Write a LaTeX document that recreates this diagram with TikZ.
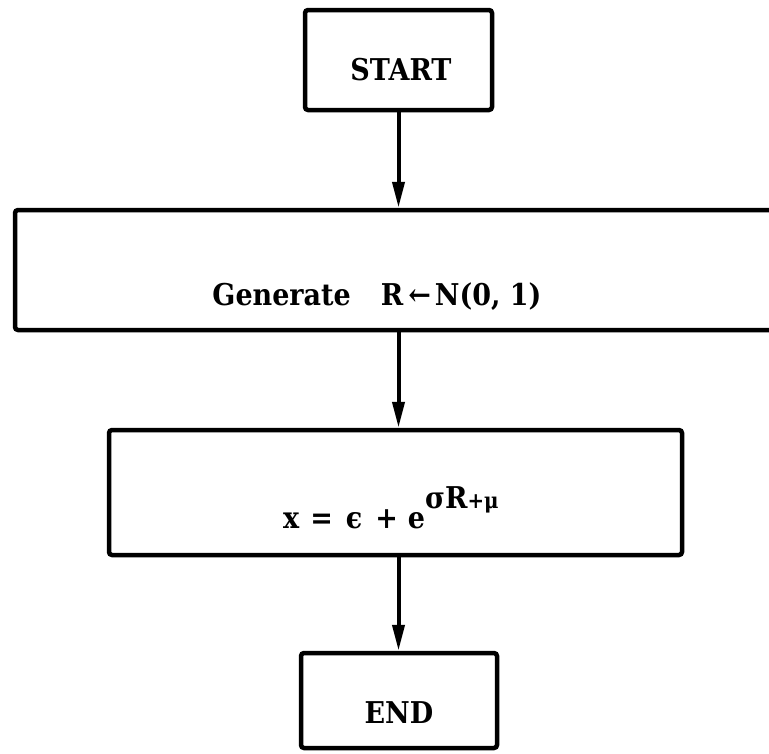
\documentclass[tikz,border=0pt]{standalone}
\usepackage{fontspec}
\setmainfont{DejaVu Serif}[FakeStretch=0.9]
\usetikzlibrary{arrows.meta}
\begin{document}
\begin{tikzpicture}[x=1pt,y=-1pt,
  box/.style={draw, line width=4.5pt, rounded corners=3pt, inner sep=0pt},
  lbl/.style={font=\fontsize{30}{33}\selectfont\bfseries, inner sep=0pt, anchor=base},
  flow/.style={line width=4pt, -{Triangle[length=26pt,width=12pt]}}]
\useasboundingbox (0,0) rectangle (769,753);
\clip (0,0) rectangle (769,753);

% process boxes
\node[box, minimum width=187pt, minimum height=100pt] (start) at (398.5,60) {};
\node[box, minimum width=775pt, minimum height=120pt] (gen) at (402.5,270) {};
\node[box, minimum width=573pt, minimum height=125pt] (xbox) at (395.5,492.5) {};
\node[box, minimum width=196pt, minimum height=95pt] (end) at (399,700.5) {};

% box texts
\node[lbl] (startlbl) at (401,80) {START};
\node[lbl] (genlbl) at (377,305) {Generate\hspace{30pt}R\hspace{5pt}←\hspace{4pt}N(0, 1)};
\node[lbl, anchor=base west] (xlbl) at (283,528)
  {x\hspace{11pt}=\hspace{13pt}ϵ\hspace{13pt}+\hspace{10pt}e\raisebox{20pt}{σR{\fontsize{22}{24}\selectfont+μ}}};
\node[lbl] (endlbl) at (399,723) {END};

% connectors
\draw[flow] (start.south) -- (start.south |- gen.north);
\draw[flow] (start.center |- gen.south) -- (start.center |- xbox.north);
\draw[flow] (start.center |- xbox.south) -- (start.center |- end.north);
\end{tikzpicture}
\end{document}
